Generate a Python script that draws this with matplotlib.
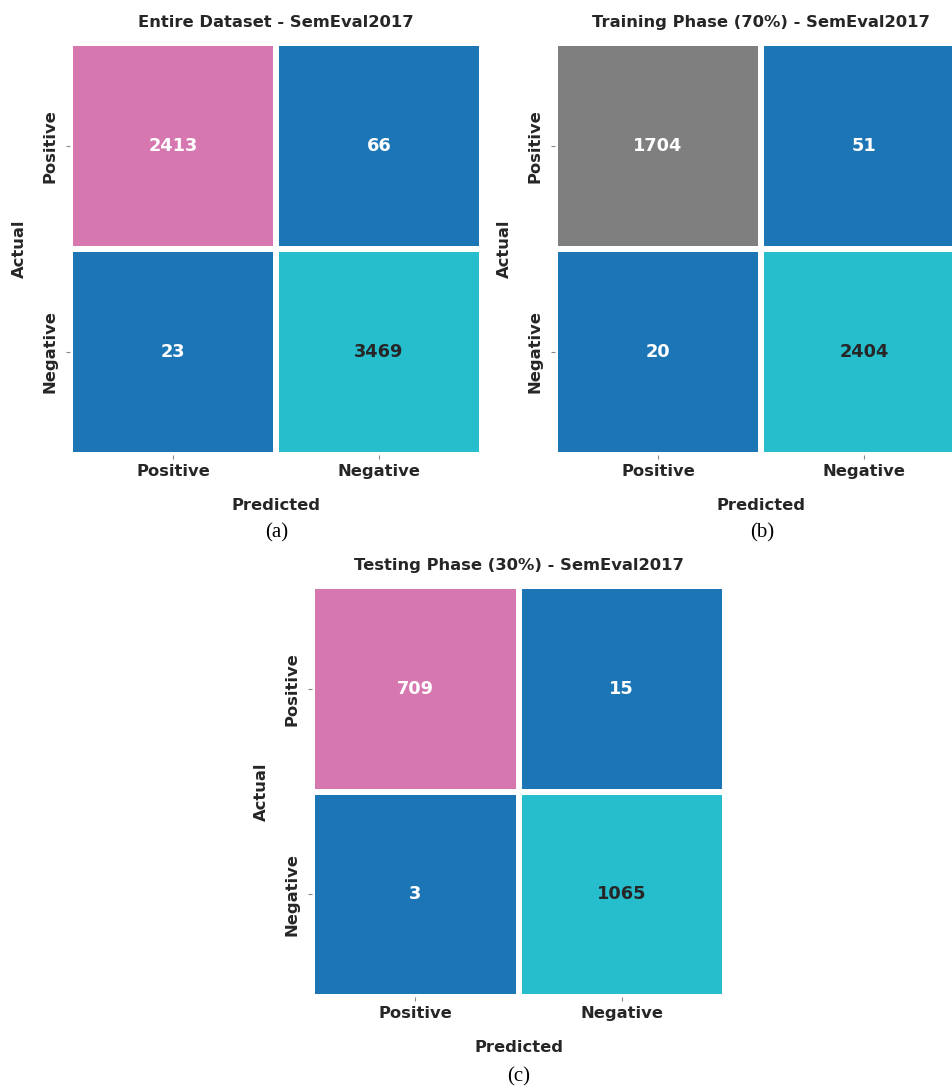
import os
import numpy as np
import matplotlib
matplotlib.use("Agg")
import matplotlib.pyplot as plt
import seaborn as sns
from matplotlib.colors import ListedColormap
from matplotlib.font_manager import FontProperties

# plain (non-condensed) DejaVu Sans Bold shipped with matplotlib
bold_file = os.path.join(matplotlib.get_data_path(), "fonts", "ttf", "DejaVuSans-Bold.ttf")


def bold(size):
    return FontProperties(fname=bold_file, size=size)


# confusion matrices (rows = actual, cols = predicted)
labels = ["Positive", "Negative"]
cm_all = np.array([[2413, 66], [23, 3469]])
cm_train = np.array([[1704, 51], [20, 2404]])
cm_test = np.array([[709, 15], [3, 1065]])

titles = ["Entire Dataset - SemEval2017",
          "Training Phase (70%) - SemEval2017",
          "Testing Phase (30%) - SemEval2017"]
captions = ["(a)", "(b)", "(c)"]

# cell colour class: 0 = true positive, 1 = errors, 2 = true negative
cell_class = np.array([[0, 1], [1, 2]])
tp_colors = ["#d677b0", "#7f7f7f", "#d677b0"]
blue = "#1c76b5"
cyan = "#26bdcd"

W, H = 952, 1089
fig = plt.figure(figsize=(W / 100, H / 100), dpi=100)

# axes boxes in pixels: left, top, width, height
boxes = [(70, 43, 412, 412), (555, 43, 412, 412), (312, 586, 413, 411)]
text_col = "#262626"


def draw_cm(box, cm, title, tp_col):
    l, t, w, h = box
    ax = fig.add_axes([l / W, 1 - (t + h) / H, w / W, h / H])
    cmap = ListedColormap([tp_col, blue, cyan])
    sns.heatmap(cell_class, annot=cm, fmt="d", cmap=cmap, vmin=-0.5, vmax=2.5,
                cbar=False, linewidths=3, linecolor="white", square=False,
                annot_kws={"fontproperties": bold(12.8)}, ax=ax)
    ax.set_xticklabels(labels, fontproperties=bold(11.8), color=text_col)
    ax.set_yticklabels(labels, fontproperties=bold(11.8), color=text_col,
                       rotation=90, va="center")
    ax.tick_params(axis="both", length=3, color="#888888")
    ax.tick_params(axis="x", pad=3.5)
    ax.tick_params(axis="y", pad=6)
    ax.set_xlabel("Predicted", fontproperties=bold(11.8), color=text_col,
                  labelpad=14)
    ax.set_ylabel("Actual", fontproperties=bold(11.8), color=text_col,
                  labelpad=11)
    ax.set_title(title, fontproperties=bold(11.8), color=text_col, pad=11.5)
    return ax


for box, cm, title, tpc in zip(boxes, [cm_all, cm_train, cm_test], titles,
                               tp_colors):
    draw_cm(box, cm, title, tpc)

# sub-figure captions
cap_pos = [(277, 533), (762, 533), (519, 1077)]
for (x, y), cap in zip(cap_pos, captions):
    fig.text(x / W, 1 - y / H, cap, ha="center", va="center",
             fontsize=15, family="Liberation Serif", color="black")

fig.savefig("out.png", dpi=100)
